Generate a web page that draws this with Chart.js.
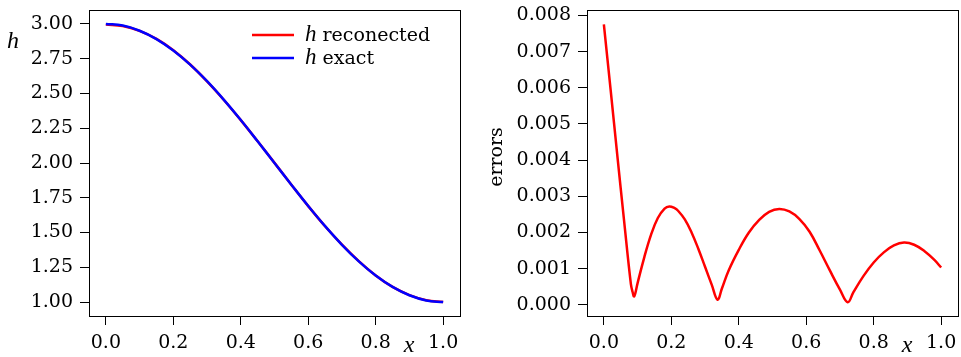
<!DOCTYPE html>
<html>
<head>
<meta charset="utf-8">
<script src="https://cdn.jsdelivr.net/npm/chart.js@4.4.0/dist/chart.umd.min.js"></script>
<style>
  body { margin: 0; background: #fff; }
  .box { position: absolute; top: 0; }
</style>
</head>
<body>
<div class="box" style="left:0px"><canvas id="left" width="480" height="357"></canvas></div>
<div class="box" style="left:480px"><canvas id="right" width="481" height="357"></canvas></div>
<script>
// values
const xH = [0, 0.05, 0.1, 0.15, 0.2, 0.25, 0.3, 0.35, 0.4, 0.45, 0.5, 0.55, 0.6, 0.65, 0.7, 0.75, 0.8, 0.85, 0.9, 0.95, 1.0];
const hExact = [3.000, 2.988, 2.951, 2.891, 2.809, 2.707, 2.588, 2.454, 2.309, 2.156, 2.000, 1.844, 1.691, 1.546, 1.412, 1.293, 1.191, 1.109, 1.049, 1.012, 1.000];
const hReconected = [2.995, 2.985, 2.950, 2.892, 2.811, 2.708, 2.587, 2.453, 2.308, 2.156, 2.001, 1.843, 1.690, 1.545, 1.413, 1.294, 1.191, 1.109, 1.050, 1.013, 1.001];

const xErr = [0, 0.02, 0.04, 0.06, 0.08, 0.085, 0.09, 0.10, 0.12, 0.14, 0.16, 0.18, 0.194, 0.21, 0.22, 0.24, 0.26, 0.28, 0.30, 0.32, 0.337,
  0.35, 0.37, 0.40, 0.43, 0.46, 0.49, 0.52, 0.55, 0.58, 0.61, 0.64, 0.67, 0.70, 0.723,
  0.74, 0.77, 0.80, 0.83, 0.86, 0.89, 0.92, 0.95, 0.98, 1.0];
const errors = [7.75, 5.95, 4.12, 2.32, 0.58, 0.36, 0.23, 0.60, 1.32, 1.94, 2.40, 2.66, 2.72, 2.67, 2.60, 2.36, 2.00, 1.55, 1.05, 0.55, 0.14,
  0.45, 0.95, 1.52, 2.00, 2.34, 2.57, 2.65, 2.58, 2.37, 2.02, 1.50, 0.95, 0.42, 0.07,
  0.35, 0.80, 1.17, 1.45, 1.64, 1.72, 1.66, 1.49, 1.24, 1.03].map(v => v / 1000);

const xTicks = [0, 0.2, 0.4, 0.6, 0.8, 1.0];
const hTicks = [1.00, 1.25, 1.50, 1.75, 2.00, 2.25, 2.50, 2.75, 3.00];
const errTicks = [0, 0.001, 0.002, 0.003, 0.004, 0.005, 0.006, 0.007, 0.008];

const FONT = 'DejaVu Serif';
const MATH = 'Liberation Serif';

function pts(xs, ys) {
  return xs.map((x, i) => ({ x: x, y: ys[i] }));
}

function axis(min, max, ticks, digits, size, isX) {
  return {
    type: 'linear',
    min: min,
    max: max,
    afterBuildTicks: s => { s.ticks = ticks.map(v => ({ value: v })); },
    afterFit: s => {
      if (isX) s.height = size; else s.width = size;
      s.paddingTop = 0; s.paddingBottom = 0; s.paddingLeft = 0; s.paddingRight = 0;
    },
    grid: { drawOnChartArea: false, drawTicks: true, tickLength: 9, color: '#000', tickColor: '#000', lineWidth: 1 },
    border: { display: false },
    ticks: {
      color: '#000',
      font: { family: FONT, size: 19 },
      padding: 7,
      maxRotation: 0,
      autoSkip: false,
      callback: v => Number(v).toFixed(digits)
    }
  };
}

// white background, frame and free text labels
const decor = {
  id: 'decor',
  beforeDraw(chart) {
    const c = chart.ctx;
    c.save();
    c.fillStyle = '#fff';
    c.fillRect(0, 0, chart.width, chart.height);
    c.restore();
  },
  afterDatasetsDraw(chart, args, opts) {
    const c = chart.ctx, a = chart.chartArea;
    c.save();
    c.strokeStyle = '#000';
    c.lineWidth = 1;
    c.strokeRect(Math.round(a.left) + 0.5, Math.round(a.top) + 0.5, Math.round(a.right - a.left), Math.round(a.bottom - a.top));
    c.fillStyle = '#000';
    c.textAlign = 'center';
    c.textBaseline = 'middle';
    // x label
    c.font = 'italic 24px ' + MATH;
    c.fillText('x', opts.xLabel[0], opts.xLabel[1]);
    // y label
    if (opts.yRotate) {
      c.font = '19px ' + FONT;
      c.translate(opts.yLabel[0], opts.yLabel[1]);
      c.rotate(-Math.PI / 2);
      c.fillText(opts.yText, 0, 0);
    } else {
      c.font = 'italic 24px ' + MATH;
      c.fillText(opts.yText, opts.yLabel[0], opts.yLabel[1]);
    }
    c.restore();

    // legend
    if (opts.legend) {
      c.save();
      c.textBaseline = 'middle';
      c.textAlign = 'left';
      opts.legend.forEach((item, i) => {
        const y = 35 + i * 23;
        c.strokeStyle = item.color;
        c.lineWidth = 2.5;
        c.beginPath();
        c.moveTo(252, y);
        c.lineTo(294, y);
        c.stroke();
        c.fillStyle = '#000';
        c.font = 'italic 23px ' + MATH;
        c.fillText('h', 305, y);
        const w = c.measureText('h').width;
        c.font = '19px ' + FONT;
        c.fillText(item.text, 305 + w, y + 1);
      });
      c.restore();
    }
  }
};

const lineStyle = { borderWidth: 2.5, pointRadius: 0, tension: 0.4 };

new Chart(document.getElementById('left'), {
  type: 'line',
  data: {
    datasets: [
      { label: 'h reconected', data: pts(xH, hReconected), borderColor: '#ff0000', order: 1, ...lineStyle },
      { label: 'h exact', data: pts(xH, hExact), borderColor: '#0000ff', order: 0, ...lineStyle }
    ]
  },
  options: {
    responsive: false,
    animation: false,
    layout: { padding: { top: 10, right: 20, left: 0, bottom: 0 } },
    scales: {
      x: axis(-0.05, 1.05, xTicks, 1, 41, true),
      y: axis(0.9, 3.1, hTicks, 2, 89, false)
    },
    plugins: {
      legend: { display: false },
      tooltip: { enabled: false },
      decor: {
        xLabel: [409, 346],
        yLabel: [13, 42],
        yText: 'h',
        yRotate: false,
        legend: [
          { text: ' reconected', color: '#ff0000' },
          { text: ' exact', color: '#0000ff' }
        ]
      }
    }
  },
  plugins: [decor]
});

new Chart(document.getElementById('right'), {
  type: 'line',
  data: {
    datasets: [
      { label: 'errors', data: pts(xErr, errors), borderColor: '#ff0000', ...lineStyle }
    ]
  },
  options: {
    responsive: false,
    animation: false,
    layout: { padding: { top: 10, right: 3, left: 0, bottom: 0 } },
    scales: {
      x: axis(-0.05, 1.05, xTicks, 1, 41, true),
      y: axis(-0.00031, 0.00815, errTicks, 3, 107, false)
    },
    plugins: {
      legend: { display: false },
      tooltip: { enabled: false },
      decor: {
        xLabel: [427, 346],
        yLabel: [17, 157],
        yText: 'errors',
        yRotate: true
      }
    }
  },
  plugins: [decor]
});
</script>
</body>
</html>
